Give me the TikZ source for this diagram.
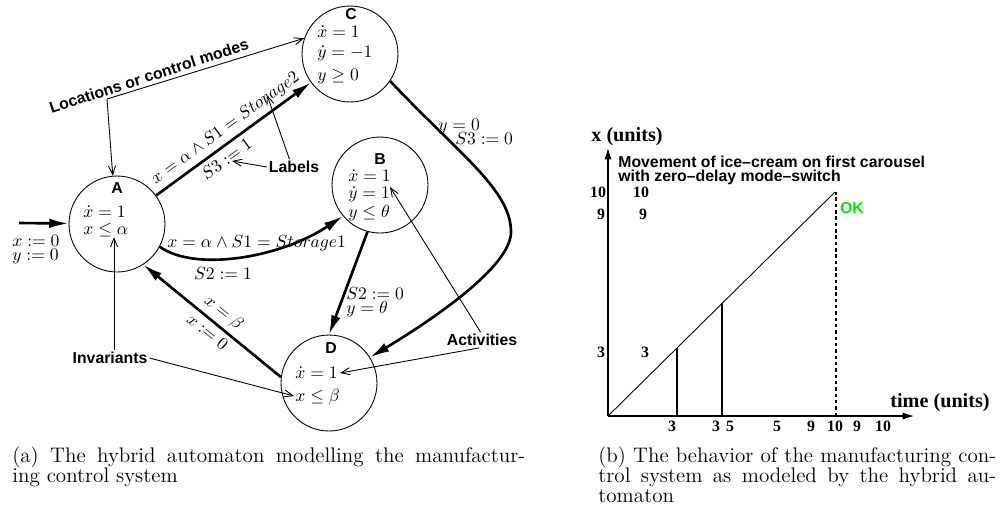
\documentclass[tikz,border=0pt]{standalone}
\usepackage{amsmath,amssymb}
\usepackage{fontspec}
\usepackage{tikz}
\usetikzlibrary{arrows.meta, positioning}
\newfontfamily\helv{Liberation Sans}
\newfontfamily\tmsfont{Liberation Serif}
\definecolor{okgreen}{RGB}{0,235,0}

\begin{document}
\begin{tikzpicture}[x=0.02cm, y=-0.02cm]
\tikzstyle{location} = [circle, draw, line width=0.5pt, minimum size=1.92cm, inner sep=0pt]
\tikzstyle{tag} = [font=\helv\bfseries\fontsize{9}{10}\selectfont, inner sep=0pt]
\tikzstyle{flow} = [anchor=west, inner sep=0pt, align=left]
\tikzstyle{guard} = [inner sep=2.5pt]
\tikzstyle{trans} = [draw, line width=1.5pt, -{Latex[length=11pt,width=5.5pt]}]
\tikzstyle{note} = [font=\helv\bfseries\fontsize{9}{10}\selectfont, inner sep=1pt]
\tikzstyle{pointer} = [draw, line width=0.5pt, -{Straight Barb[length=5pt,width=4pt]}]
\tikzstyle{axis} = [draw, line width=1.1pt, -{Latex[length=7pt,width=4pt]}]
\tikzstyle{axislabel} = [font=\tmsfont\bfseries\fontsize{11.5}{13}\selectfont, inner sep=0pt]
\tikzstyle{tick} = [font=\tmsfont\bfseries\fontsize{9}{10}\selectfont, inner sep=0pt]
\tikzstyle{stopline} = [draw, line width=1.5pt]
\tikzstyle{deadline} = [draw, line width=1.6pt, dash pattern=on 2pt off 1.6pt]
\tikzstyle{caption} = [anchor=north west, inner sep=0pt, align=justify, font=\fontsize{12}{11.5}\selectfont]

\useasboundingbox (0,0) rectangle (999,512);

% locations of the automaton
\node (A) [location] at (117,224) {};
\node (B) [location] at (380,185) {};
\node (C) [location] at (350,54) {};
\node (D) [location] at (329,383) {};

\node (Atag) [tag] at (117,188) {A};
\node (Aflow) [flow] at (83,221) {$\dot{x}=1$\\[-2.3pt]$x\leq\alpha$};
\node (Ctag) [tag] at (351,14) {C};
\node (Cflow) [flow] at (317,55) {$\dot{x}=1$\\[-0.6pt]$\dot{y}=-1$\\[1.1pt]$y\geq 0$};
\node (Btag) [tag] at (380,159) {B};
\node (Bflow) [flow] at (348,195) {$\dot{x}=1$\\[-2.3pt]$\dot{y}=1$\\[-1.2pt]$y\leq\theta$};
\node (Dtag) [tag] at (331,348) {D};
\node (Dflow) [flow] at (295,386) {$\dot{x}=1$\\[1.1pt]$x\leq\beta$};

% initial condition
\coordinate (start) at (19,223);
\node (init) [flow] at (12,250) {$x:=0$\\[-4pt]$y:=0$};
\draw [trans] (start) -- (A);

% transitions
\draw [trans] (A) -- node (gAC) [guard, sloped, above] {$x=\alpha\wedge S1=Storage2$} node (aAC) [guard, pos=0.41, sloped, below] {$S3:=1$} (C);
\draw [trans] (A.-28) .. controls (195,272) and (280,258) .. (B.220);
\node (gAB) [flow] at (167,243) {$x=\alpha\wedge S1=Storage1$};
\node (aAB) [guard] at (223,273) {$S2:=1$};
\draw [trans] (B.255) -- (D.north);
\node (actBD) [flow] at (346,302) {$S2:=0$\\[-4pt]$y=\theta$};
\coordinate (bend) at (511,232);
\draw [trans] (C.-34) .. controls (460,155) and (511,190) .. (bend) .. controls (511,265) and (440,315) .. (D.32);
\node (actCD) [flow] at (438,132) {$y=0$\\[-4pt]\hspace*{0.34cm}$S3:=0$};
\draw [trans] (D.173) -- node (gDA) [guard, pos=0.48, sloped, above] {$x=\beta$} node (aDA) [guard, pos=0.48, sloped, below] {$x:=0$} (A.-57);

% annotations
\node (locs) [note, rotate=18] at (149,76) {Locations or control modes};
\coordinate (locbend) at (107,99);
\draw [pointer] (locbend) -- (C.161);
\draw [pointer] (locbend) -- (A.95);
\node (lbl) [note] at (294,167) {Labels};
\coordinate (s3mark) at (232,161);
\coordinate (stormark) at (267,95);
\draw [pointer] (lbl.west) -- (s3mark);
\draw [pointer] (lbl.120) -- (stormark);
\node (inv) [note] at (110,358) {Invariants};
\coordinate (invmark) at (114,237);
\coordinate (invmarkD) at (294,396);
\draw [pointer] (inv.north -| invmark) -- (invmark);
\draw [pointer] (inv.east) -- (invmarkD);
\node (act) [note] at (482,340) {Activities};
\coordinate (actmarkB) at (390,187);
\coordinate (actmarkD) at (340,373);
\draw [pointer] (act.100) -- (actmarkB);
\draw [pointer] (act.250) -- (actmarkD);

% behaviour plot
\coordinate (O) at (608,416);
\coordinate (ytip) at (608,147);
\coordinate (xtip) at (915,416);
\draw [axis] (O) -- (ytip);
\draw [axis] (O) -- (xtip);
\node (ylab) [axislabel] at (627,137) {x (units)};
\node (xlab) [axislabel] at (940,403) {time (units)};
\node (title) [note, anchor=west, align=left, inner sep=0pt, font=\helv\bfseries\fontsize{9}{8}\selectfont] at (618,170) {Movement of ice–cream on first carousel\\with zero–delay mode–switch};
\coordinate (peak) at (835,192);
\draw [line width=0.5pt] (O) -- (peak);
\coordinate (m1) at (677,416);
\coordinate (m1top) at (677,348);
\coordinate (m2) at (722,416);
\coordinate (m2top) at (722,303);
\draw [stopline] (m1) -- (m1top);
\draw [stopline] (m2) -- (m2top);
\coordinate (done) at (836,416);
\coordinate (donetop) at (836,192);
\draw [deadline] (done) -- (donetop);
\node (ok) [note, text=okgreen] at (852,208) {OK};
\foreach \val/\xx [count=\i] in {3/672, 3/716, 5/730, 5/777, 9/811, 10/835, 9/857, 10/883}
  \node (xtick\i) [tick] at (\xx,426) {\val};
\foreach \val/\xx/\yy [count=\i] in {10/598/192, 9/601/214, 3/601/352, 10/641/192, 9/643/214, 3/645/352}
  \node (ytick\i) [tick] at (\xx,\yy) {\val};

% captions
\node (capa) [caption, text width=10.26cm] at (12,446) {(a) The hybrid automaton modelling the manufactur-\linebreak ing control system};
\node (capb) [caption, text width=7.96cm] at (598,446) {(b) The behavior of the manufacturing con-\linebreak trol system as modeled by the hybrid au-\linebreak tomaton};
\end{tikzpicture}
\end{document}
